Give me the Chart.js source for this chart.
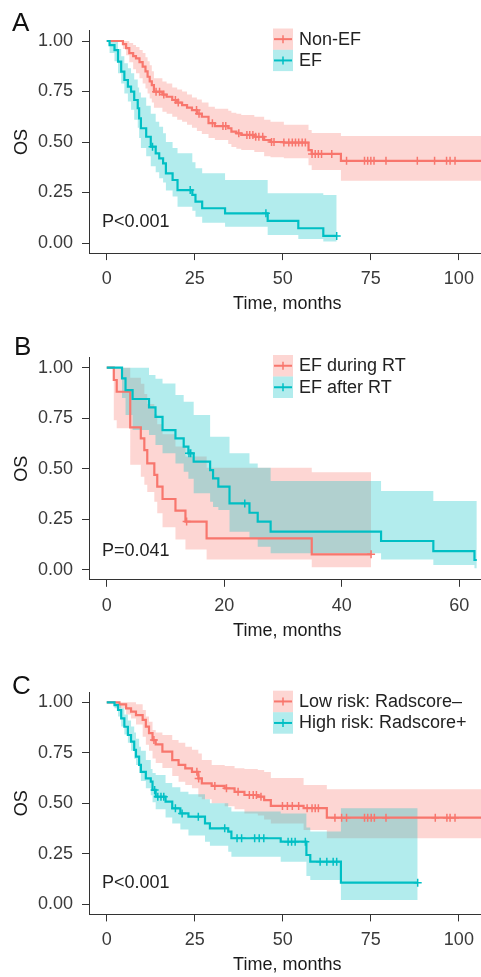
<!DOCTYPE html>
<html><head><meta charset="utf-8">
<script src="https://cdn.jsdelivr.net/npm/chart.js@4.4.1/dist/chart.umd.min.js"></script>
<style>
html,body{margin:0;padding:0;background:#fff;width:481px;height:977px;overflow:hidden;position:relative;}
canvas{position:absolute;left:0;}
</style></head><body>
<canvas id="cA" width="491" height="320" style="top:0px"></canvas>
<canvas id="cB" width="491" height="330" style="top:320px"></canvas>
<canvas id="cC" width="491" height="327" style="top:650px"></canvas>
<script>
// ---------- Panel A ----------
const aLabels = ['Non-EF', 'EF'];
const aNonT = [0,4.6,5.5,6.4,7.5,8.3,9.3,10.2,11.0,11.6,12.2,12.8,13.4,15.8,17.0,18.6,20.0,21.4,22.8,24.2,25.6,27.0,28.9,30.7,34.5,35.4,36.8,38.2,41.9,44.7,46.5,50.3,57.3,58.2,66.5,107];
const aNonS = [1,.985,.965,.94,.925,.914,.895,.873,.85,.823,.80,.782,.749,.735,.724,.708,.695,.683,.67,.658,.64,.625,.593,.579,.568,.551,.543,.535,.526,.51,.50,.497,.46,.441,.407,.407];
const aNonU = [1,1,1,.99,.98,.97,.955,.94,.92,.90,.88,.85,.815,.80,.79,.77,.76,.75,.735,.72,.71,.695,.675,.665,.655,.645,.64,.634,.625,.61,.60,.585,.56,.545,.53,.53];
const aNonL = [1,.96,.93,.895,.86,.84,.815,.79,.765,.74,.715,.695,.67,.65,.64,.625,.61,.60,.585,.57,.555,.54,.52,.51,.49,.475,.467,.46,.45,.43,.425,.419,.385,.361,.308,.308];
const aNonC = [14.0,15.0,16.2,19.5,20.3,25.5,26.2,30.0,33.0,33.8,37.5,39.8,40.6,41.5,42.3,43.2,44.3,46.8,47.5,50.3,51.7,52.7,53.6,54.5,55.5,56.4,58.3,59.2,60.1,61,63.9,68.1,73.2,74.1,75,75.9,79.3,88.2,93.1,96.5,97.5,98.9];
const aEfT = [0,0.8,2.2,3.2,4.1,5.0,6.0,6.9,7.8,8.8,9.2,9.7,11.2,12.5,13.9,14.9,16.0,16.8,18.7,20.1,24.3,25.2,27.1,33.6,45.7,54.4,61.5,65.3];
const aEfS = [1,.98,.955,.898,.848,.807,.774,.749,.708,.667,.617,.568,.526,.477,.444,.419,.394,.345,.312,.262,.238,.205,.172,.147,.11,.073,.035,.035];
const aEfU = [1,1,.995,.96,.925,.89,.865,.84,.81,.77,.745,.72,.68,.64,.60,.575,.543,.50,.47,.444,.40,.37,.345,.312,.246,.246,.238,.238];
const aEfL = [1,.94,.90,.84,.79,.74,.70,.66,.61,.57,.52,.47,.43,.38,.35,.32,.30,.26,.23,.18,.16,.13,.10,.08,.04,.02,.007,.007];
const aEfC = [13.0,23.7,45.2,65.3];
const aXTicks = [0,25,50,75,100];

// ---------- Panel B ----------
const bLabels = ['EF during RT', 'EF after RT'];
const bDurT = [0,1.2,1.7,4.0,5.8,6.4,6.9,8.1,8.6,9.5,11.7,13.4,17.0,34.9,45.0];
const bDurS = [1,.939,.881,.705,.650,.592,.526,.469,.411,.350,.292,.238,.155,.076,.076];
const bDurU = [1,1,1,.95,.92,.87,.82,.77,.72,.67,.61,.56,.505,.482,.482];
const bDurL = [1,.74,.70,.52,.46,.42,.385,.337,.279,.21,.15,.10,.05,.012,.012];
const bDurC = [13.6,45.0];
const bAftT = [0,2.6,3.2,4.4,7.2,8.3,9.5,11.7,13.1,13.9,14.8,17.6,18.1,19.0,20.9,24.3,25.7,27.9,46.7,55.6,62.6,63];
const bAftS = [1,.947,.889,.845,.804,.757,.691,.65,.609,.576,.535,.493,.452,.411,.328,.282,.238,.188,.142,.092,.048,.048];
const bAftU = [1,1,1,1,.964,.945,.922,.865,.832,.832,.766,.658,.658,.658,.576,.526,.505,.439,.389,.34,.34,.34];
const bAftL = [1,.85,.766,.691,.667,.617,.576,.526,.485,.45,.378,.337,.31,.295,.188,.155,.114,.081,.051,.023,.007,.007];
const bAftC = [14.0,14.3,23.5];
const bXTicks = [0,20,40,60];

// ---------- Panel C ----------
const cLabels = ['Low risk: Radscore\u2013', 'High risk: Radscore+'];
const cLowT = [0,3.6,5.5,6.9,8.3,10.2,11.1,12.0,13.0,13.9,15.8,18.6,20.4,22.3,24.2,26.0,27.0,29.8,33.5,36.3,39.1,42.9,44.7,46.6,55.9,62.5,107];
const cLowS = [1,.99,.97,.954,.937,.913,.88,.847,.813,.792,.756,.714,.69,.673,.656,.623,.599,.586,.574,.557,.541,.533,.516,.487,.476,.429,.429];
const cLowU = [1,1,1,1,.99,.962,.93,.904,.863,.85,.838,.813,.80,.78,.765,.747,.714,.69,.685,.673,.67,.665,.655,.625,.59,.569,.569];
const cLowL = [1,.97,.94,.92,.89,.83,.79,.76,.722,.70,.675,.635,.607,.59,.574,.533,.52,.50,.485,.47,.45,.44,.42,.40,.368,.327,.322];
const cLowC = [13.4,25.6,26.1,30.7,34.0,37.3,40.5,41.6,42.5,43.8,49.9,51.3,52.7,54.5,56.9,58.3,59.2,60.1,64.8,66.7,68.1,73.2,74.1,75.1,76.0,79.3,93.3,96.6,97.5,98.9];
const cHighT = [0,2.2,3.2,4.1,5.0,6.0,6.9,7.8,8.3,9.2,9.7,11.1,12.5,13.0,13.9,16.7,18.6,20.9,23.2,27.9,29.3,34.5,35.4,49.4,56.7,57.8,66.5,88.3];
const cHighS = [1,.986,.962,.92,.879,.838,.805,.764,.731,.69,.656,.623,.607,.566,.533,.508,.475,.45,.434,.401,.376,.36,.327,.31,.244,.211,.107,.107];
const cHighU = [1,1,.99,.97,.94,.91,.88,.85,.82,.78,.76,.714,.67,.65,.64,.60,.58,.557,.545,.52,.50,.48,.459,.45,.38,.36,.476,.476];
const cHighL = [1,.97,.93,.88,.84,.80,.76,.72,.69,.65,.61,.575,.54,.505,.47,.43,.40,.37,.34,.31,.29,.26,.236,.211,.14,.12,.021,.021];
const cHighC = [13.6,14.5,15.4,16.2,19.5,21.4,26.0,33.5,37.0,38.3,42.0,43.3,44.6,51.5,52.5,53.5,56.4,60.6,62.5,64.3,65.3,88.3];
const cXTicks = [0,25,50,75,100];

const yTicks = [0,0.25,0.5,0.75,1];
const pTexts = ['P<0.001','P=0.041','P<0.001'];
const panelLetters = ['A','B','C'];

// ---------- styling ----------
const FONT = "'Liberation Sans', Arial, Helvetica, sans-serif";
const RED = '#F8766D', TEAL = '#00BFC4';
const RED_BAND = 'rgba(248,118,109,0.3)', TEAL_BAND = 'rgba(0,191,196,0.3)';
const AX = '#333333';

function stepAt(T, S, t) { let v = S[0]; for (let i = 0; i < T.length; i++) { if (T[i] <= t) v = S[i]; } return v; }

function group(T, S, U, L, C, color, band, bandOrder, lineOrder) {
  return [
    {data: T.map((t,i)=>({x:t,y:U[i]})), stepped:true, fill:'+1', backgroundColor:band, borderColor:'rgba(0,0,0,0)', borderWidth:1, pointRadius:0, order:bandOrder},
    {data: T.map((t,i)=>({x:t,y:L[i]})), stepped:true, fill:false, borderColor:'rgba(0,0,0,0)', borderWidth:1, pointRadius:0, order:bandOrder},
    {data: T.map((t,i)=>({x:t,y:S[i]})), stepped:true, fill:false, borderColor:color, borderWidth:2.2, pointRadius:0, order:lineOrder},
    {data: C.map(t=>({x:t,y:stepAt(T,S,t)})), showLine:false, pointStyle:'cross', pointRadius:4, pointBorderColor:color, pointBorderWidth:1.5, borderColor:color, backgroundColor:color, order:1}
  ];
}

const textPlugin = {
  id: 'panelText',
  afterDraw(chart, args, o) {
    const ctx = chart.ctx;
    ctx.save();
    ctx.textBaseline = 'middle'; ctx.textAlign = 'left';
    ctx.fillStyle = '#111';
    ctx.font = '26px ' + FONT;
    ctx.fillText(o.letter, o.letterX, o.letterY);
    ctx.font = '18px ' + FONT;
    ctx.fillStyle = '#222';
    ctx.fillText(o.p, o.pX, o.pY);
    o.legend.forEach((it, i) => {
      const top = o.legTop + i * o.legH;
      const cy = top + o.legH / 2;
      ctx.fillStyle = it.band;
      ctx.fillRect(o.legX, top, 20, o.legH);
      ctx.strokeStyle = it.color; ctx.lineWidth = 2;
      ctx.beginPath(); ctx.moveTo(o.legX + 1, cy); ctx.lineTo(o.legX + 19, cy); ctx.stroke();
      ctx.lineWidth = 1.5;
      ctx.beginPath(); ctx.moveTo(o.legX + 10, cy - 4); ctx.lineTo(o.legX + 10, cy + 4); ctx.stroke();
      ctx.fillStyle = '#222';
      ctx.fillText(it.label, o.legX + 26, cy + 0.5);
    });
    ctx.restore();
  }
};

function makeChart(id, cfg) {
  const H = document.getElementById(id).height;
  return new Chart(document.getElementById(id), {
    type: 'line',
    data: {datasets: cfg.datasets},
    plugins: [textPlugin],
    options: {
      responsive: false, animation: false, devicePixelRatio: 1,
      layout: {padding: {top: cfg.top, left: 0, right: 0, bottom: 0}},
      plugins: {legend: {display: false}, tooltip: {enabled: false}, panelText: cfg.text},
      scales: {
        x: {
          type: 'linear', min: cfg.xmin, max: cfg.xmax,
          afterBuildTicks: s => { s.ticks = cfg.xticks.map(v => ({value: v})); },
          afterFit: s => { s.height = H - cfg.bottom; s.paddingLeft = 0; s.paddingRight = 0; },
          grid: {display: true, drawOnChartArea: false, drawTicks: true, tickLength: 7, tickColor: AX, tickWidth: 1},
          border: {display: true, color: AX, width: 1},
          ticks: {font: {family: FONT, size: 18, lineHeight: 1.2}, color: '#3a3a3a', padding: 8, maxRotation: 0, autoSkip: false},
          title: {display: true, text: 'Time, months', color: '#1a1a1a', font: {family: FONT, size: 18, lineHeight: 1.2}, padding: {top: 0, bottom: cfg.titlePad}}
        },
        y: {
          type: 'linear', min: -0.05, max: 1.05,
          afterBuildTicks: s => { s.ticks = yTicks.map(v => ({value: v})); },
          afterFit: s => { s.width = 89; s.paddingTop = 0; s.paddingBottom = 0; },
          grid: {display: true, drawOnChartArea: false, drawTicks: true, tickLength: 7, tickColor: AX, tickWidth: 1},
          border: {display: true, color: AX, width: 1},
          ticks: {font: {family: FONT, size: 18, lineHeight: 1.2}, color: '#3a3a3a', padding: 9, callback: v => Number(v).toFixed(2)},
          title: {display: true, text: 'OS', color: '#1a1a1a', font: {family: FONT, size: 18, lineHeight: 1.2}, padding: {top: 11, bottom: 0}}
        }
      }
    }
  });
}

// Panel A: chart area 30.9..253.1 (canvas top 0)
makeChart('cA', {
  datasets: [...group(aNonT,aNonS,aNonU,aNonL,aNonC,RED,RED_BAND,10,3), ...group(aEfT,aEfS,aEfU,aEfL,aEfC,TEAL,TEAL_BAND,9,2)],
  top: 30.9, bottom: 253.1, xmin: -5.04, xmax: 107.56, xticks: aXTicks, titlePad: 5.2,
  text: {letter: panelLetters[0], letterX: 12, letterY: 24, p: pTexts[0], pX: 102, pY: 221.7,
         legX: 273, legTop: 28.5, legH: 21.3,
         legend: [{label: aLabels[0], color: RED, band: RED_BAND}, {label: aLabels[1], color: TEAL, band: TEAL_BAND}]}
});
// Panel B: chart area 357.6..579.8 (canvas top 320)
makeChart('cB', {
  datasets: [...group(bDurT,bDurS,bDurU,bDurL,bDurC,RED,RED_BAND,10,3), ...group(bAftT,bAftS,bAftU,bAftL,bAftC,TEAL,TEAL_BAND,9,2)],
  top: 37.6, bottom: 259.8, xmin: -3.02, xmax: 64.48, xticks: bXTicks, titlePad: 8.4,
  text: {letter: panelLetters[1], letterX: 14, letterY: 27.5, p: pTexts[1], pX: 102, pY: 230.7,
         legX: 273, legTop: 35, legH: 21.5,
         legend: [{label: bLabels[0], color: RED, band: RED_BAND}, {label: bLabels[1], color: TEAL, band: TEAL_BAND}]}
});
// Panel C: chart area 692.2..914.4 (canvas top 650)
makeChart('cC', {
  datasets: [...group(cLowT,cLowS,cLowU,cLowL,cLowC,RED,RED_BAND,10,3), ...group(cHighT,cHighS,cHighU,cHighL,cHighC,TEAL,TEAL_BAND,9,2)],
  top: 42.2, bottom: 264.4, xmin: -5.04, xmax: 107.56, xticks: cXTicks, titlePad: 0.8,
  text: {letter: panelLetters[2], letterX: 12, letterY: 36.5, p: pTexts[2], pX: 102, pY: 233.3,
         legX: 273, legTop: 40.7, legH: 21.5,
         legend: [{label: cLabels[0], color: RED, band: RED_BAND}, {label: cLabels[1], color: TEAL, band: TEAL_BAND}]}
});
</script>
</body></html>
